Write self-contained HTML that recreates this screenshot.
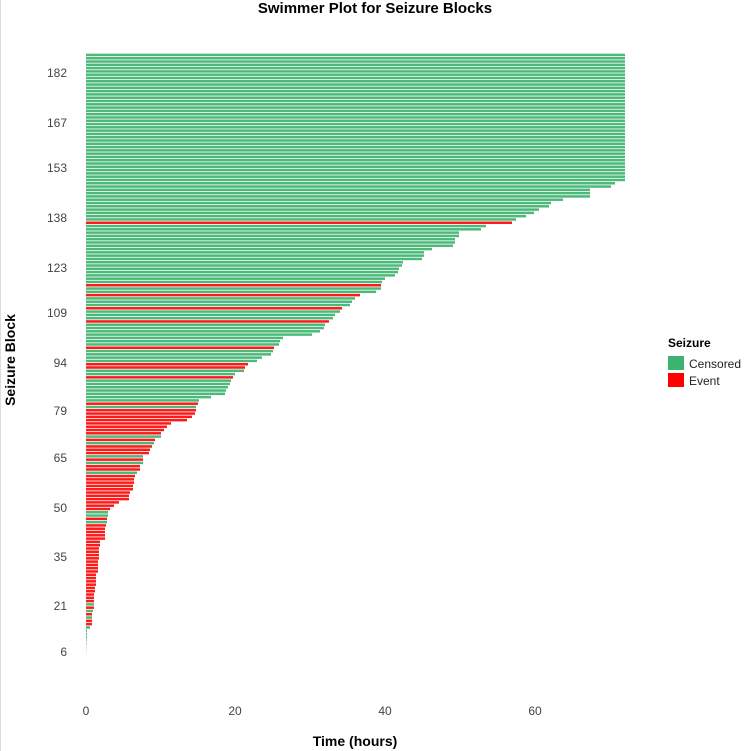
<!DOCTYPE html>
<html><head><meta charset="utf-8"><style>
html,body{margin:0;padding:0;background:#fff;}
svg{display:block;font-family:"Liberation Sans",sans-serif;}
</style></head><body>
<svg id="s" width="749" height="751" viewBox="0 0 749 751" xmlns="http://www.w3.org/2000/svg">
<rect width="749" height="751" fill="#fff"/>
<line x1="0.5" y1="0" x2="0.5" y2="751" stroke="#ddd"/>
<text x="375" y="13" text-anchor="middle" font-size="15" font-weight="bold" fill="#000">Swimmer Plot for Seizure Blocks</text>
<g id="bars"></g>
<g font-size="12" fill="#444" text-anchor="end">
<text x="67" y="656">6</text><text x="67" y="610">21</text><text x="67" y="561">35</text>
<text x="67" y="512">50</text><text x="67" y="462">65</text><text x="67" y="415">79</text>
<text x="67" y="367">94</text><text x="67" y="317">109</text><text x="67" y="272">123</text>
<text x="67" y="222">138</text><text x="67" y="172">153</text><text x="67" y="127">167</text><text x="67" y="77">182</text>
</g>
<g font-size="12" fill="#444" text-anchor="middle">
<text x="86" y="715">0</text><text x="235" y="715">20</text><text x="385" y="715">40</text><text x="535" y="715">60</text>
</g>
<text x="355" y="746" text-anchor="middle" font-size="14" font-weight="bold">Time (hours)</text>
<text transform="translate(15,360) rotate(-90)" text-anchor="middle" font-size="14" font-weight="bold">Seizure Block</text>
<text x="668" y="347" font-size="12" font-weight="bold">Seizure</text>
<rect x="668" y="356" width="16" height="14" fill="#3cb371"/>
<rect x="668" y="373" width="16" height="14" fill="#ff0000"/>
<text x="689" y="368" font-size="12" fill="#222">Censored</text>
<text x="689" y="385" font-size="12" fill="#222">Event</text>
</svg>
<script>
(function(){
var s="http://www.w3.org/2000/svg";
var rows=[];
for(var i=0;i<39;i++)rows.push([625,"g"]);
var z="615 611 590 590 590 563 551 549 539 534 526 516 512R 486 481 459 459 455 455 453 432 424 424 422 403 402 399 398 395 385 382 381R 381 376 360R 355 352 350 342R 340 335 333 329R 325 324 320 312 283 280 279 274R 273 271 262 257 248R 245R 244 235 233R 231 230 228 226 225 211 199 198R 196 196R 195R 192R 187R 171R 167R 164R 161R 161 155R 154 152R 150R 149R 143 143R 143 140R 140R 137 135R 134R 134R 133R 133R 130R 129R 129R 119R 114R 110R 108 108 107R 107 106R 105R 105R 105R 105R 100R 100R 99R 99R 99R 99R 98R 98R 98R 98R 96R 96R 96R 96R 95R 95R 94R 94R 94R 94 94R 93 92R 92 92R 92R 90 87 87 87 86.6 86.5 86.3 86.2 86.1 86 86 86 86".split(" ");
z.forEach(function(v){var r=v.indexOf("R")>=0;rows.push([parseFloat(v),r?"r":"g"]);});
var g=document.getElementById("bars");
rows.forEach(function(r,k){var y=55+k*3.29;var w=r[0]-86;if(w<=0)return;
var e=document.createElementNS(s,"rect");e.setAttribute("x",86);e.setAttribute("y",(y-1.3).toFixed(2));e.setAttribute("width",w.toFixed(1));e.setAttribute("height",2.5);
e.setAttribute("fill",r[1]=="r"?"#ff1a1a":"#4cb97a");g.appendChild(e);});
})();
</script>
</body></html>
